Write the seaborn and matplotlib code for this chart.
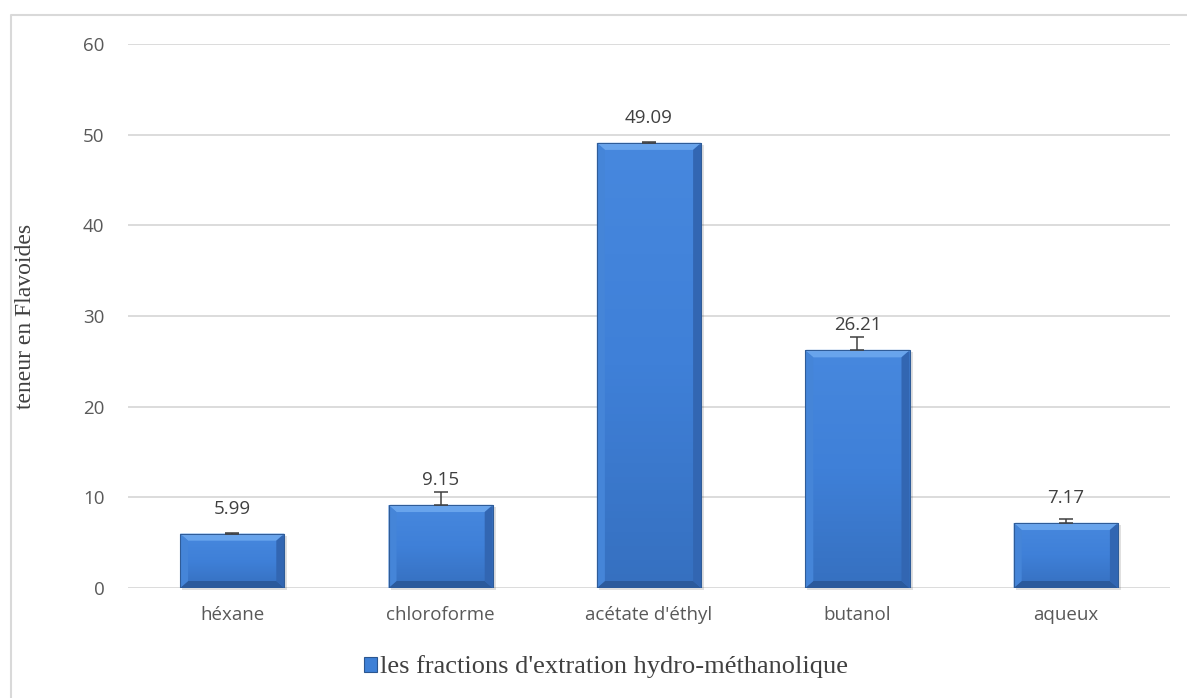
import numpy as np
import pandas as pd
import seaborn as sns
import matplotlib.pyplot as plt
from matplotlib.patches import Polygon, Patch
from matplotlib.lines import Line2D
from matplotlib.colors import LinearSegmentedColormap

# Flavonoid content of the hydro-methanolic extract fractions
categories = ["héxane", "chloroforme", "acétate d'éthyl", "butanol", "aqueux"]
flavonoids = [5.99, 9.15, 49.09, 26.21, 7.17]
errors_up = [0.12, 1.4, 0.12, 1.5, 0.4]
yticks = [0, 10, 20, 30, 40, 50, 60]
ylabel = "teneur en Flavoides"
legend_label = "les fractions d'extration hydro-méthanolique"

df = pd.DataFrame({"fraction": categories, "teneur": flavonoids})

sns.set_theme(style="white")
plt.rcParams["font.family"] = ["Open Sans", "DejaVu Sans"]

W, H = 1187, 698
fig = plt.figure(figsize=(W / 100, H / 100), dpi=100)
ax = fig.add_axes([128 / W, 1 - 588 / H, 1042 / W, 544 / H])

face = "#3e80d6"
sns.barplot(data=df, x="fraction", y="teneur", color=face, saturation=1,
            width=0.5, errorbar=None, ax=ax, zorder=3, linewidth=0)

ax.set_ylim(0, 60)
ax.set_xlim(-0.5, len(categories) - 0.5)
ax.set_yticks(yticks)
ax.set_yticklabels([str(t) for t in yticks])
ax.yaxis.grid(True, color="#d9d9d9", lw=1.3)
ax.set_axisbelow(True)
for s in ax.spines.values():
    s.set_visible(False)
ax.tick_params(axis="y", length=0, pad=17, labelsize=13.5, labelcolor="#595959")
ax.tick_params(axis="x", length=0, pad=13, labelsize=13.5, labelcolor="#595959")
ax.set_xlabel("")
ax.set_ylabel(ylabel, family=["Liberation Serif", "DejaVu Serif"], fontsize=17,
              color="#404040")
ax.yaxis.set_label_coords(-0.088, 0.5)

# bevelled, gradient-filled bars with a soft drop shadow
grad = LinearSegmentedColormap.from_list("bar", ["#3670c0", "#3f80d8", "#4788de"])
px_y = 60 / 544          # data units per pixel (vertical)
px_x = 5 / 1042           # data units per pixel (horizontal)
bx, by = 8 * px_x, 7 * px_y
centers = []
for patch in list(ax.patches):
    x0, w, h = patch.get_x(), patch.get_width(), patch.get_height()
    centers.append(x0 + w / 2)
    ax.add_patch(Polygon([(x0 + 2 * px_x, -2 * px_y), (x0 + 2 * px_x, h - 2 * px_y),
                          (x0 + w + 3 * px_x, h - 2 * px_y), (x0 + w + 3 * px_x, -2 * px_y)],
                         closed=True, facecolor="#000000", alpha=0.12, edgecolor="none",
                         zorder=2.9, clip_on=False))
    img = ax.imshow(np.linspace(0, 1, 64).reshape(-1, 1), cmap=grad, origin="lower",
                    extent=[x0, x0 + w, 0, h], aspect="auto", zorder=3.1)
    img.set_clip_path(patch)
    pieces = [
        ([(x0, h), (x0 + w, h), (x0 + w - bx, h - by), (x0 + bx, h - by)], "#68a4ec"),
        ([(x0, 0), (x0 + w, 0), (x0 + w - bx, by), (x0 + bx, by)], "#2b5a9c"),
        ([(x0, 0), (x0, h), (x0 + bx, h - by), (x0 + bx, by)], "#4585d8"),
        ([(x0 + w, 0), (x0 + w, h), (x0 + w - bx, h - by), (x0 + w - bx, by)], "#3266b2"),
    ]
    for pts, col in pieces:
        ax.add_patch(Polygon(pts, closed=True, facecolor=col, edgecolor="none", zorder=3.2))
    ax.plot([x0 + 1 * px_x, x0 + w - 1 * px_x], [h, h], color="#8cbcf4", lw=1, zorder=3.3)
    ax.add_patch(Polygon([(x0, 0), (x0, h), (x0 + w, h), (x0 + w, 0)], closed=True,
                         fill=False, edgecolor="#2f5c98", lw=0.8, zorder=3.4))
ax.set_xlim(-0.5, len(categories) - 0.5)
ax.set_ylim(0, 60)

ax.errorbar(centers, flavonoids, yerr=[np.zeros(len(errors_up)), errors_up], fmt="none",
            ecolor="#404040", elinewidth=1.1, capsize=5, capthick=1.1, zorder=4)

for cx, v in zip(centers, flavonoids):
    ax.annotate(f"{v:.2f}", (cx, v), xytext=(0, 18), textcoords="offset points",
                ha="center", va="center", fontsize=13.5, color="#404040", zorder=5)

handle = Patch(facecolor=face, edgecolor="#2b5690", lw=0.8)
fig.legend([handle], [legend_label], loc="center", bbox_to_anchor=(606 / W, 1 - 667 / H),
           frameon=False, handlelength=0.5, handleheight=0.5, handletextpad=0.1,
           prop={"family": ["Liberation Serif", "DejaVu Serif"], "size": 19},
           labelcolor="#404040")

# chart-area border
fig.add_artist(Line2D([10.5 / W, 10.5 / W, 1], [0, 1 - 14.5 / H, 1 - 14.5 / H],
                      transform=fig.transFigure, color="#d9d9d9", lw=1.5))

fig.savefig("out.png", dpi=100, facecolor="white")
